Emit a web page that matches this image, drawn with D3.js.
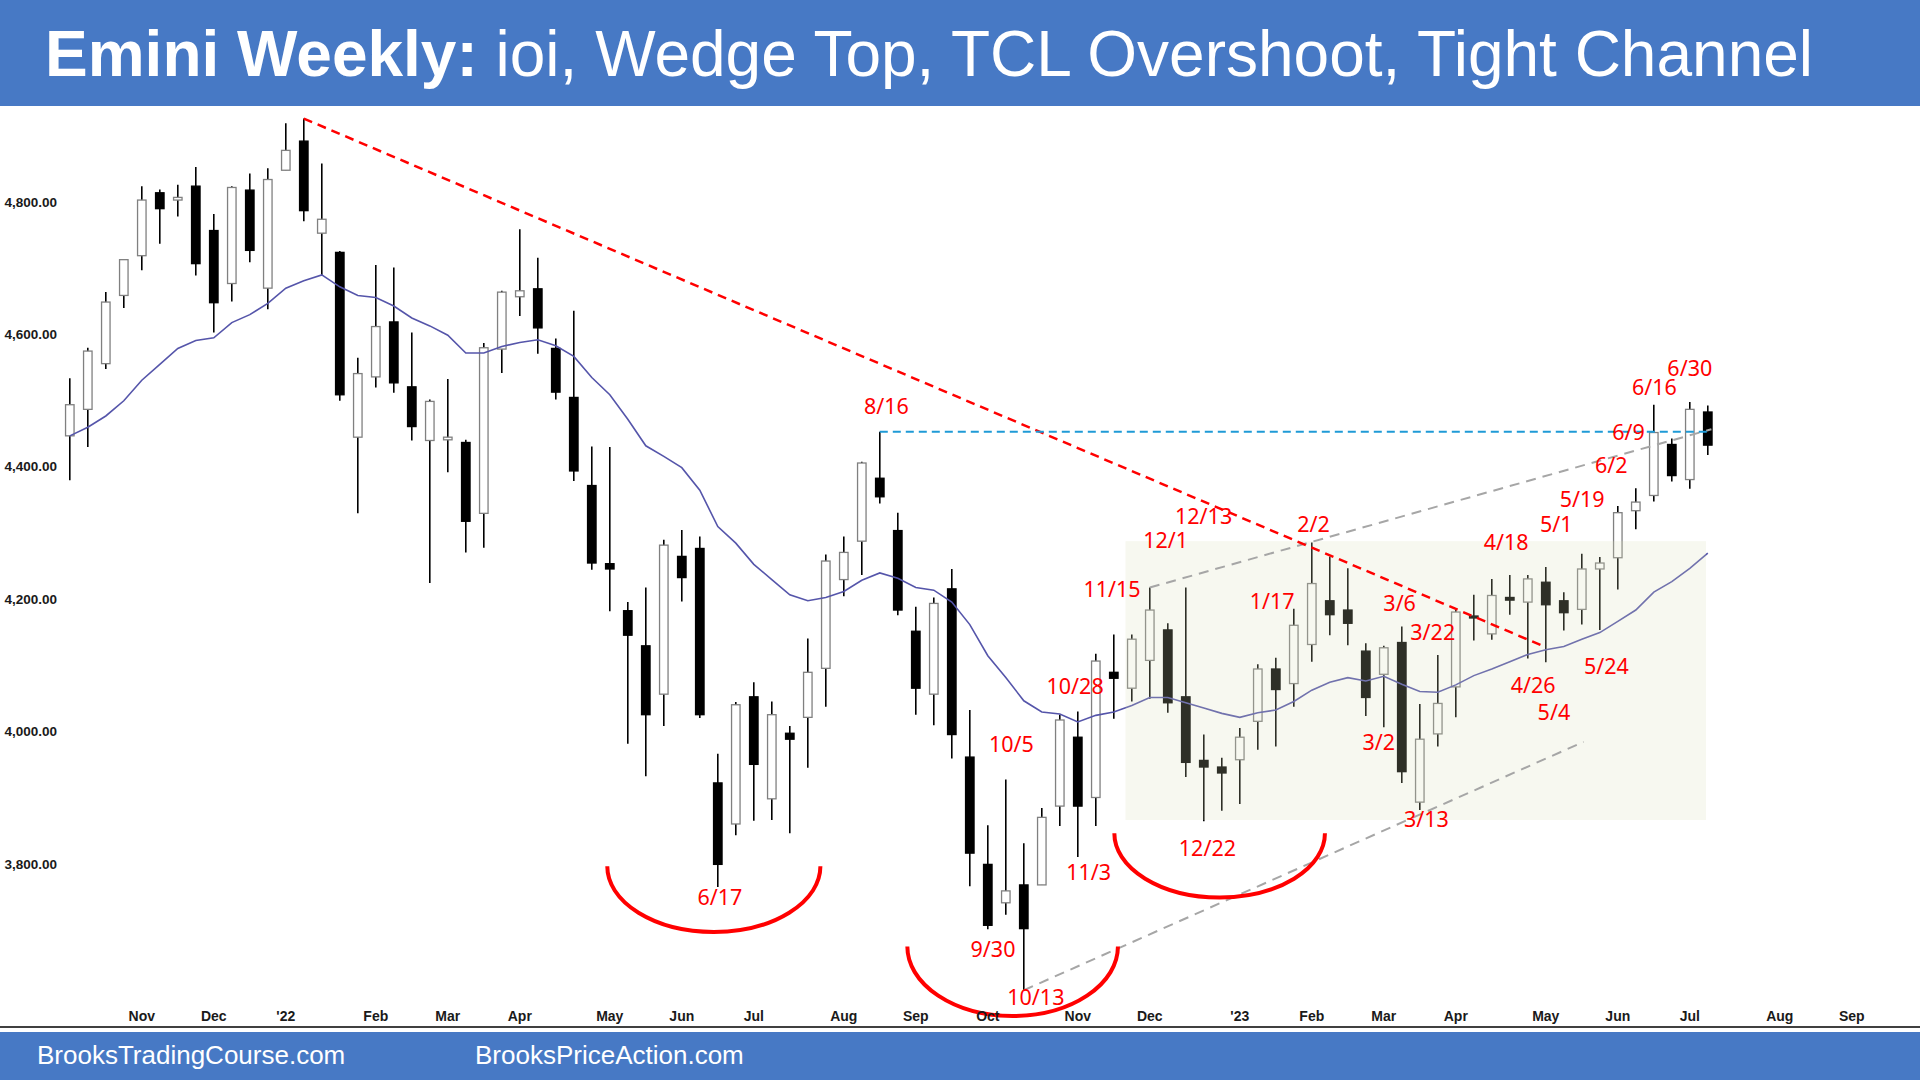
<!DOCTYPE html>
<html><head><meta charset="utf-8">
<script src="https://cdn.jsdelivr.net/npm/d3@7"></script>
<style>html,body{margin:0;padding:0;background:#fff;overflow:hidden;} svg{display:block;}</style>
</head><body>
<svg id="chart" width="1920" height="1080"></svg>
<script>
// ---------- DATA ----------
const firstWeek = new Date(2021, 9, 3); // week of Oct 3, 2021 (bar 0)
const opens = [4447,4487,4556,4659,4719,4814,4803,4824,4757,4677,4818,4670,4848,4892,4753,4724,4445,4536,4619,4521,
4440,4441,4437,4330,4578,4657,4669,4579,4505,4372,4254,4183,4130,4057,4265,4277,3923,3861,4053,3899,
3998,4022,4096,4230,4288,4383,4304,4152,4057,4216,3962,3800,3742,3769,3769,3888,3992,3901,4090,4066,
4108,4154,4053,3957,3947,3958,4016,4095,4073,4132,4198,4184,4122,4087,4135,3894,3997,4068,4175,4148,
4203,4196,4226,4198,4185,4246,4263,4334,4357,4434,4381,4483];
const highs = [4534,4580,4664,4713,4824,4819,4826,4853,4782,4824,4843,4851,4919,4926,4858,4726,4565,4705,4701,4603,
4502,4533,4441,4587,4666,4759,4716,4594,4636,4431,4430,4196,4218,4290,4305,4295,3967,4045,4075,4046,
4009,4141,4268,4295,4408,4453,4331,4189,4203,4246,4033,3859,3928,3832,3885,4026,4031,4118,4147,4147,
4218,4164,4218,3996,3961,4006,4102,4112,4186,4286,4265,4247,4134,4130,4159,4042,4116,4184,4207,4231,
4237,4237,4249,4211,4269,4264,4341,4368,4494,4443,4498,4493];
const lows = [4380,4430,4548,4640,4697,4737,4778,4689,4603,4650,4709,4638,4848,4771,4690,4500,4330,4520,4512,4440,
4225,4392,4271,4278,4542,4628,4571,4502,4379,4245,4182,3982,3933,4009,4197,4021,3766,3844,3866,3867,
3847,3946,4038,4205,4237,4345,4176,4026,4010,3960,3767,3702,3724,3610,3769,3858,3811,3858,4020,4046,
4050,4029,3932,3865,3881,3891,3973,3978,4038,4106,4146,4131,4024,4007,3923,3882,3978,4022,4138,4139,
4177,4111,4105,4153,4162,4154,4215,4306,4348,4378,4367,4418];
const closes = [4494,4575,4649,4713,4803,4790,4807,4707,4648,4822,4727,4834,4878,4787,4774,4509,4541,4612,4527,4461,
4499,4445,4318,4580,4664,4666,4610,4513,4394,4255,4246,4146,4026,4282,4233,4026,3800,4041,3951,4026,
3989,4090,4258,4271,4406,4355,4184,4066,4194,3996,3817,3708,3760,3703,3871,4018,3888,4107,4081,4140,
4184,4044,3954,3947,3938,3992,4095,4064,4161,4224,4177,4164,4052,4127,3940,3989,4043,4181,4172,4206,
4199,4231,4192,4180,4246,4255,4331,4347,4452,4387,4487,4433];
const ema20 = [4447,4460,4477,4500,4531,4555,4579,4591,4595,4618,4630,4647,4670,4681,4690,4672,4659,4656,4643,4625,
4613,4599,4572,4572,4582,4588,4592,4583,4567,4535,4509,4472,4432,4416,4399,4365,4310,4285,4253,4230,
4207,4198,4203,4212,4229,4240,4232,4218,4214,4196,4162,4115,4082,4047,4030,4027,4015,4025,4030,4040,
4052,4052,4044,4036,4028,4022,4029,4033,4046,4063,4075,4082,4077,4084,4072,4061,4060,4071,4085,4095,
4106,4117,4124,4129,4140,4150,4167,4184,4211,4227,4247,4270];

const yTicks = [3800, 4000, 4200, 4400, 4600, 4800];
const xTickMonths = ["2021-11","2021-12","2022-01","2022-02","2022-03","2022-04","2022-05","2022-06","2022-07","2022-08","2022-09","2022-10",
"2022-11","2022-12","2023-01","2023-02","2023-03","2023-04","2023-05","2023-06","2023-07","2023-08","2023-09"];
const xTickLabels = ["Nov","Dec","'22","Feb","Mar","Apr","May","Jun","Jul","Aug","Sep","Oct",
"Nov","Dec","'23","Feb","Mar","Apr","May","Jun","Jul","Aug","Sep"];

// annotations (bar index, price)
const bearTrendLine = [[13, 4926], [81.9, 4129]];
const augHighLine = [[45, 4453], [91, 4453]];
const wedgeUpper = [[60, 4218], [91.2, 4457]];
const wedgeLower = [[53, 3610], [84.1, 3985]];
const rangeBox = {bar0: 58.65, bar1: 90.9, lo: 3867, hi: 4288};
const arcs = [ {bar: 35.78, price: 3797, rx: 5.92, ry: 99},
               {bar: 52.38, price: 3676, rx: 5.85, ry: 105},
               {bar: 63.88, price: 3847, rx: 5.85, ry: 97} ];
const labelText  = ["8/16","6/17","10/5","9/30","10/13","10/28","11/3","11/15","12/1","12/13","12/22","1/17","2/2","3/6","3/2","3/22","3/13","4/18","4/26","5/4","5/1","5/24","5/19","6/2","6/9","6/16","6/30"];
const labelBar   = [45.37,36.12,52.31,51.29,53.67,55.85,56.6,57.9,60.88,62.99,63.2,66.8,69.1,73.88,72.72,75.72,75.37,79.8,81.3,82.45,82.58,85.37,84.02,85.64,86.6,88.03,90.0];
const labelPrice = [4493,3752,3983,3673,3601,4070,3789,4216,4290,4327,3826,4198,4314,4196,3985,4151,3869,4288,4072,4031,4314,4101,4353,4403,4454,4521,4550];

// ---------- DRAW ----------
const W = 1920, H = 1080;
const svg = d3.select("#chart");
const n = opens.length;
const x = d3.scaleLinear().domain([0, 91]).range([69.8, 1707.8]);
const y = d3.scaleLinear().domain([3556, 4945]).range([1026, 106]);

svg.append("rect").attr("width", W).attr("height", H).attr("fill", "#fff");

// candles
const g = svg.append("g");
const bars = d3.range(n).map(i => ({i, o: opens[i], h: highs[i], l: lows[i], c: closes[i]}));
g.selectAll("line.wick").data(bars).enter().append("line")
  .attr("x1", d => x(d.i)).attr("x2", d => x(d.i))
  .attr("y1", d => y(d.h)).attr("y2", d => y(d.l))
  .attr("stroke", "#000").attr("stroke-width", 1.6);
const bw = 8.5;
g.selectAll("rect.body").data(bars).enter().append("rect")
  .attr("x", d => x(d.i) - bw / 2).attr("width", bw)
  .attr("y", d => y(Math.max(d.o, d.c)))
  .attr("height", d => Math.max(1.5, Math.abs(y(d.o) - y(d.c))))
  .attr("fill", d => d.c >= d.o ? "#fff" : "#000")
  .attr("stroke", d => d.c >= d.o ? "#808080" : "#000")
  .attr("stroke-width", 1.3);

// EMA
svg.append("path").datum(ema20)
  .attr("d", d3.line().x((v, i) => x(i)).y(v => y(v)))
  .attr("fill", "none").attr("stroke", "#5555aa").attr("stroke-width", 1.6);

// translucent range box
svg.append("rect")
  .attr("x", x(rangeBox.bar0)).attr("width", x(rangeBox.bar1) - x(rangeBox.bar0))
  .attr("y", y(rangeBox.hi)).attr("height", y(rangeBox.lo) - y(rangeBox.hi))
  .attr("fill", "rgb(218,222,186)").attr("opacity", 0.21);

// lines
const seg = (pts, color, w, dash) => svg.append("line")
  .attr("x1", x(pts[0][0])).attr("y1", y(pts[0][1]))
  .attr("x2", x(pts[1][0])).attr("y2", y(pts[1][1]))
  .attr("stroke", color).attr("stroke-width", w).attr("stroke-dasharray", dash);
seg(wedgeUpper, "#a6a6a6", 2, "10,7");
seg(wedgeLower, "#a6a6a6", 2, "10,7");
seg(bearTrendLine, "#ff0000", 2.5, "9,6");
seg(augHighLine, "#1f9ad6", 2, "8,5");

// arcs (lower half ellipses)
arcs.forEach(a => {
  const cx = x(a.bar), cy = y(a.price);
  const rx = x(a.bar + a.rx) - cx, ry = y(a.price - a.ry) - cy;
  svg.append("path")
    .attr("d", `M${cx - rx},${cy} A${rx},${ry} 0 0 0 ${cx + rx},${cy}`)
    .attr("fill", "none").attr("stroke", "#ff0000").attr("stroke-width", 4);
});

// labels
svg.append("g").selectAll("text").data(labelText).enter().append("text")
  .attr("x", (t, i) => x(labelBar[i])).attr("y", (t, i) => y(labelPrice[i]))
  .attr("text-anchor", "middle").attr("dominant-baseline", "central")
  .attr("font-family", "'Noto Sans', 'Open Sans', sans-serif").attr("font-size", 21.5)
  .attr("fill", "#ff0000").text(t => t);

// y axis labels
const fmt = d3.format(",.2f");
svg.append("g").selectAll("text").data(yTicks).enter().append("text")
  .attr("x", 57).attr("y", d => y(d)).attr("text-anchor", "end").attr("dominant-baseline", "central")
  .attr("font-family", "'Liberation Sans', Arial, sans-serif").attr("font-weight", "bold")
  .attr("font-size", 13.5).attr("fill", "#1a1a1a").text(d => fmt(d));

// x axis
const parseM = d3.timeParse("%Y-%m");
const tickIdx = xTickMonths.map(m => d3.timeWeek.count(firstWeek, d3.timeWeek.floor(parseM(m))));
svg.append("g").selectAll("text").data(xTickLabels).enter().append("text")
  .attr("x", (t, i) => x(tickIdx[i])).attr("y", 1021)
  .attr("text-anchor", "middle")
  .attr("font-family", "'Liberation Sans', Arial, sans-serif").attr("font-weight", "bold")
  .attr("font-size", 14).attr("fill", "#1a1a1a").text(t => t);
svg.append("line").attr("x1", 0).attr("x2", W).attr("y1", 1027).attr("y2", 1027)
  .attr("stroke", "#404040").attr("stroke-width", 2);

// header
svg.append("rect").attr("x", 0).attr("y", 0).attr("width", W).attr("height", 106).attr("fill", "#4779c5");
const title = svg.append("text").attr("x", 45).attr("y", 76)
  .attr("font-family", "'Liberation Sans', Arial, sans-serif").attr("font-size", 64).attr("fill", "#fff");
title.append("tspan").attr("font-weight", "bold").text("Emini Weekly:");
title.append("tspan").text(" ioi, Wedge Top, TCL Overshoot, Tight Channel");

// footer
svg.append("rect").attr("x", 0).attr("y", 1032).attr("width", W).attr("height", 48).attr("fill", "#4779c5");
svg.append("text").attr("x", 37).attr("y", 1064)
  .attr("font-family", "'Liberation Sans', Arial, sans-serif").attr("font-size", 26).attr("fill", "#fff")
  .text("BrooksTradingCourse.com");
svg.append("text").attr("x", 475).attr("y", 1064)
  .attr("font-family", "'Liberation Sans', Arial, sans-serif").attr("font-size", 26).attr("fill", "#fff")
  .text("BrooksPriceAction.com");
</script>
</body></html>
